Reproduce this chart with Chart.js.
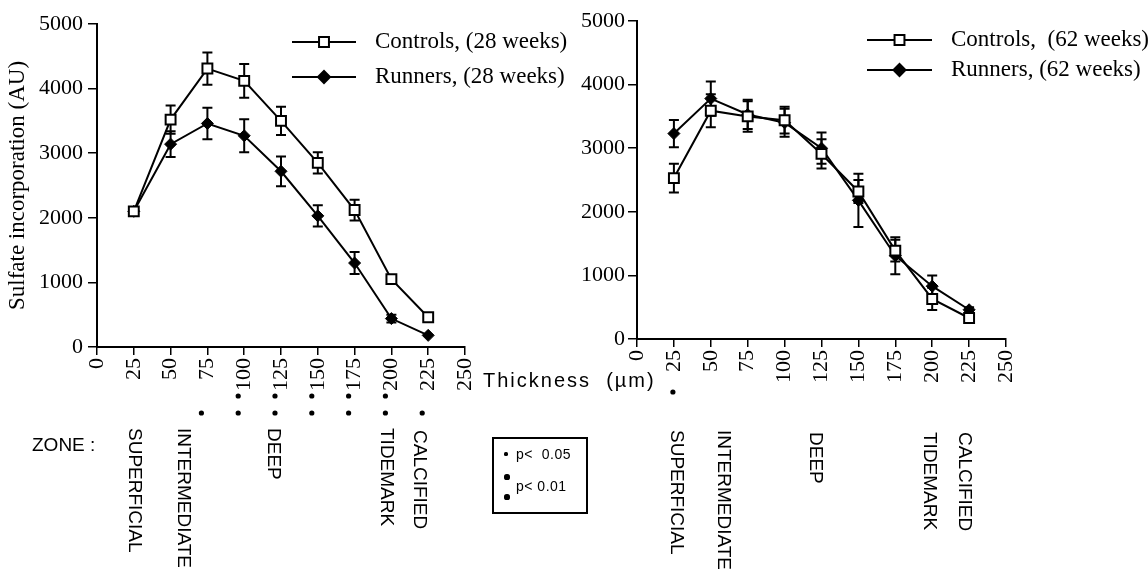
<!DOCTYPE html>
<html>
  <head>
    <title>Sulfate incorporation</title>
    <script src="https://cdn.jsdelivr.net/npm/chart.js@4.4.0/dist/chart.umd.min.js"></script>
    <style>
      body { margin: 0; background: #fff; }
      #wrap { position: relative; width: 1148px; height: 571px; overflow: hidden; }
      canvas { position: absolute; left: 0; top: 0; }
      .note { position: absolute; font-family: "Liberation Sans", Arial, sans-serif; color: #000; white-space: pre; }
      .zone { font-size: 19px; line-height: 19px; transform: rotate(90deg); transform-origin: 0 0; }
      .dot { position: absolute; background: #000; border-radius: 50%; }
    </style>
  </head>
  <body>
    <div id="wrap">
      <canvas id="left" width="1148" height="571"></canvas>
      <canvas id="right" width="1148" height="571"></canvas>
    </div>
    <script>
      // values
      const thickness = [25, 50, 75, 100, 125, 150, 175, 200, 225];

      const controls28 = [2100, 3520, 4310, 4120, 3500, 2850, 2120, 1050, 460];
      const controls28Err = [0, 220, 250, 260, 220, 165, 160, 0, 0];
      const runners28 = [2100, 3140, 3460, 3270, 2720, 2030, 1300, 440, 180];
      const runners28Err = [0, 200, 245, 255, 230, 165, 170, 60, 0];

      const controls62 = [2530, 3590, 3500, 3440, 2910, 2320, 1390, 630, 330];
      const controls62Err = [225, 260, 240, 210, 230, 180, 170, 175, 40];
      const runners62 = [3230, 3780, 3530, 3400, 3000, 2180, 1310, 830, 460];
      const runners62Err = [215, 270, 230, 220, 245, 420, 290, 170, 40];

      // significance marks under the x axis (1 = p<0.05, 2 = p<0.01)
      const sig28X = [75, 100, 125, 150, 175, 200, 225];
      const sig28Level = [1, 2, 2, 2, 2, 2, 1];
      const sig62X = [25];
      const sig62Level = [1];

      const zoneNames = ['SUPERFICIAL', 'INTERMEDIATE', 'DEEP', 'TIDEMARK', 'CALCIFIED'];

      const serif = '"Liberation Serif", "Times New Roman", serif';
      Chart.defaults.color = '#000';
      Chart.defaults.font.family = serif;

      const pts = (ys) => thickness.map((x, i) => ({ x: x, y: ys[i] }));

      const errorBars = {
        id: 'errorBars',
        beforeDatasetsDraw(chart) {
          const { ctx, scales: { x, y } } = chart;
          ctx.save();
          ctx.strokeStyle = '#000';
          ctx.lineWidth = 2;
          chart.data.datasets.forEach(ds => {
            ds.data.forEach((p, i) => {
              const e = ds.errors[i];
              if (!e) return;
              const px = x.getPixelForValue(p.x);
              const top = y.getPixelForValue(p.y + e);
              const bot = y.getPixelForValue(p.y - e);
              ctx.beginPath();
              ctx.moveTo(px, top); ctx.lineTo(px, bot);
              ctx.moveTo(px - 5, top); ctx.lineTo(px + 5, top);
              ctx.moveTo(px - 5, bot); ctx.lineTo(px + 5, bot);
              ctx.stroke();
            });
          });
          ctx.restore();
        }
      };

      const sideLegend = {
        id: 'sideLegend',
        afterDraw(chart, args, o) {
          const ctx = chart.ctx;
          ctx.save();
          chart.data.datasets.forEach((ds, i) => {
            const yy = o.rows[i];
            ctx.strokeStyle = '#000';
            ctx.lineWidth = 2;
            ctx.beginPath();
            ctx.moveTo(o.from, yy); ctx.lineTo(o.to, yy);
            ctx.stroke();
            ctx.fillStyle = ds.pointBackgroundColor;
            Chart.helpers.drawPoint(ctx, { pointStyle: ds.pointStyle, radius: ds.pointRadius, rotation: 0, borderWidth: 2 }, (o.from + o.to) / 2, yy);
            ctx.fillStyle = '#000';
            ctx.font = '23px ' + serif;
            ctx.textBaseline = 'middle';
            ctx.fillText(ds.label, o.textX, yy);
          });
          ctx.restore();
        }
      };

      const sigDots = {
        id: 'sigDots',
        afterDraw(chart, args, o) {
          const { ctx, scales: { x } } = chart;
          ctx.save();
          ctx.fillStyle = '#000';
          o.xs.forEach((v, i) => {
            const px = x.getPixelForValue(v) + o.dx;
            const rows = o.levels[i] === 2 ? o.rowsDouble : o.rowsSingle;
            rows.forEach(yy => {
              ctx.beginPath();
              ctx.arc(px, yy, 2.6, 0, Math.PI * 2);
              ctx.fill();
            });
          });
          ctx.restore();
        }
      };

      function makeChart(id, cfg) {
        const datasets = [
          {
            label: cfg.labels[0], data: pts(cfg.controls), errors: cfg.controlsErr,
            borderColor: '#000', borderWidth: 2, pointStyle: 'rect', pointRadius: 7,
            pointBackgroundColor: '#fff', pointBorderColor: '#000', pointBorderWidth: 2
          },
          {
            label: cfg.labels[1], data: pts(cfg.runners), errors: cfg.runnersErr,
            borderColor: '#000', borderWidth: 2, pointStyle: 'rectRot', pointRadius: 6,
            pointBackgroundColor: '#000', pointBorderColor: '#000', pointBorderWidth: 1
          }
        ];
        return new Chart(document.getElementById(id), {
          type: 'line',
          data: { datasets: datasets },
          plugins: [errorBars, sideLegend, sigDots],
          options: {
            responsive: false,
            animation: false,
            events: [],
            layout: { padding: cfg.padding },
            plugins: {
              legend: { display: false },
              tooltip: { enabled: false },
              sideLegend: cfg.legend,
              sigDots: cfg.sig
            },
            scales: {
              x: {
                type: 'linear', min: 0, max: 250,
                afterFit: s => { s.height = cfg.xHeight; },
                ticks: { stepSize: 25, autoSkip: false, minRotation: 90, maxRotation: 90, padding: 3, font: { size: 22 }, callback: v => String(v) },
                grid: { drawOnChartArea: false, color: '#000', tickLength: 8, lineWidth: 1.5 },
                border: { color: '#000', width: 2 }
              },
              y: {
                min: 0, max: 5000,
                afterFit: s => { s.width = cfg.yWidth; },
                ticks: { stepSize: 1000, padding: cfg.yPad, font: { size: 22 }, callback: v => String(v) },
                grid: { drawOnChartArea: false, color: '#000', tickLength: 9, lineWidth: 1.5 },
                border: { color: '#000', width: 2 },
                title: { display: !!cfg.yTitle, text: cfg.yTitle, font: { size: 23 }, padding: { top: 4, bottom: 0 } }
              }
            }
          }
        });
      }

      makeChart('left', {
        labels: ['Controls, (28 weeks)', 'Runners, (28 weeks)'],
        controls: controls28, controlsErr: controls28Err,
        runners: runners28, runnersErr: runners28Err,
        padding: { left: 0, top: 24, right: 683, bottom: 0 },
        xHeight: 224, yWidth: 97, yPad: 5,
        yTitle: 'Sulfate incorporation (AU)',
        legend: { rows: [42, 77], from: 292, to: 356, textX: 375 },
        sig: { xs: sig28X, levels: sig28Level, dx: -6, rowsSingle: [413], rowsDouble: [396, 413] }
      });

      makeChart('right', {
        labels: ['Controls,  (62 weeks)', 'Runners, (62 weeks)'],
        controls: controls62, controlsErr: controls62Err,
        runners: runners62, runnersErr: runners62Err,
        padding: { left: 560, top: 21, right: 142, bottom: 0 },
        xHeight: 232, yWidth: 77, yPad: 3,
        yTitle: '',
        legend: { rows: [40, 70], from: 867, to: 932, textX: 951 },
        sig: { xs: sig62X, levels: sig62Level, dx: -1, rowsSingle: [392], rowsDouble: [380, 392] }
      });

      // text notes below the plots
      const wrap = document.getElementById('wrap');
      function note(text, cls, left, top, extra) {
        const d = document.createElement('div');
        d.className = 'note ' + cls;
        d.textContent = text;
        d.style.left = left + 'px';
        d.style.top = top + 'px';
        Object.assign(d.style, extra || {});
        wrap.appendChild(d);
        return d;
      }
      function dot(cx, cy, r) {
        const d = document.createElement('div');
        d.className = 'dot';
        Object.assign(d.style, { left: (cx - r) + 'px', top: (cy - r) + 'px', width: 2 * r + 'px', height: 2 * r + 'px' });
        wrap.appendChild(d);
      }

      note('Thickness  (\u00b5m)', '', 483, 370, { fontSize: '20px', lineHeight: '20px', letterSpacing: '2px' });
      note('ZONE :', '', 32, 435, { fontSize: '19px', lineHeight: '19px' });

      const zoneLeftPos = [[145, 428], [194, 428], [284, 428], [397, 428], [430, 430]];
      const zoneRightPos = [[687, 430], [734, 430], [826, 432], [940, 432], [975, 432]];
      zoneNames.forEach((z, i) => {
        note(z, 'zone', zoneLeftPos[i][0], zoneLeftPos[i][1]);
        note(z, 'zone', zoneRightPos[i][0], zoneRightPos[i][1]);
      });

      // p-value key
      note('', '', 492, 437, { width: '96px', height: '77px', border: '2px solid #000', boxSizing: 'border-box' });
      dot(506, 454, 1.6);
      note('p<  0.05', '', 516, 446, { fontSize: '14px', lineHeight: '16px', letterSpacing: '0.5px' });
      dot(507, 477, 2.6);
      dot(507, 497, 2.6);
      note('p< 0.01', '', 516, 478, { fontSize: '14px', lineHeight: '16px', letterSpacing: '0.5px' });
    </script>
  </body>
</html>
